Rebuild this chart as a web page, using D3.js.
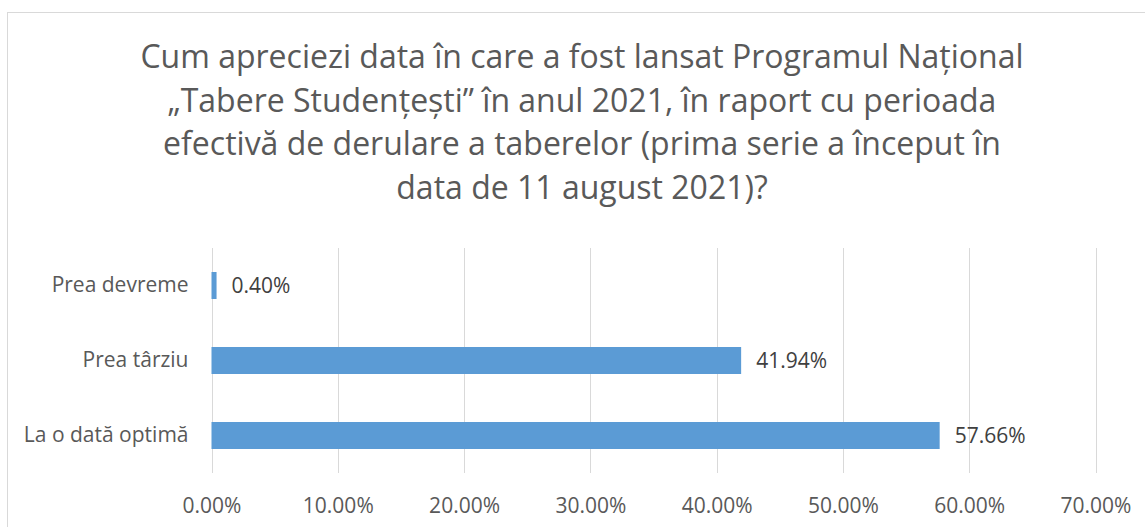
<!DOCTYPE html>
<html>
<head>
<meta charset="utf-8">
<script src="https://cdn.jsdelivr.net/npm/d3@7"></script>
<style>
  body { margin: 0; background: #fff; }
  svg { display: block; font-family: "Open Sans", "Noto Sans", sans-serif; }
  .grid line { stroke: #d9d9d9; stroke-width: 1; }
  .axis text { fill: #595959; font-size: 21px; }
</style>
</head>
<body>
<svg id="chart"></svg>
<script>
// chart data
var categories = ["Prea devreme", "Prea târziu", "La o dată optimă"];
var values = [0.40, 41.94, 57.66];
var tickValues = [0, 10, 20, 30, 40, 50, 60, 70];
var titleLines = [
	"Cum apreciezi data în care a fost lansat Programul Național",
	"„Tabere Studențești” în anul 2021, în raport cu perioada",
	"efectivă de derulare a taberelor (prima serie a început în",
	"data de 11 august 2021)?"
];

function drawChart() {
	var W = 1145, H = 527;
	var plot = {left: 211.5, right: 1095.5, top: 248, bottom: 473};

	var svg = d3.select("#chart")
		.attr("width", W)
		.attr("height", H);

	svg.append("rect")
		.attr("width", W).attr("height", H)
		.attr("fill", "#fff");

	// chart border (runs off right and bottom edges)
	svg.append("rect")
		.attr("x", 7.5).attr("y", 12.5)
		.attr("width", W + 20).attr("height", H + 20)
		.attr("fill", "none")
		.attr("stroke", "#d9d9d9");

	// title
	svg.append("text")
		.attr("text-anchor", "middle")
		.attr("fill", "#595959")
		.style("font-size", "32px")
	  .selectAll("tspan")
		.data(titleLines)
	  .enter().append("tspan")
		.attr("x", 582)
		.attr("y", function(d, i) { return 68 + i * 43.5; })
		.text(function(d) { return d; });

	var x = d3.scaleLinear()
		.domain([0, 70])
		.range([plot.left, plot.right]);

	var y = d3.scaleBand()
		.domain(categories)
		.range([plot.top, plot.bottom])
		.paddingInner(0.64)
		.paddingOuter(0.32);

	// gridlines
	svg.append("g")
		.attr("class", "grid")
		.selectAll("line")
		.data(tickValues)
	  .enter().append("line")
		.attr("x1", function(d) { return Math.round(x(d)) + 0.5; })
		.attr("x2", function(d) { return Math.round(x(d)) + 0.5; })
		.attr("y1", plot.top)
		.attr("y2", plot.bottom);

	// x axis labels
	var xAxis = d3.axisBottom(x)
		.tickValues(tickValues)
		.tickSize(0)
		.tickPadding(0)
		.tickFormat(function(d) { return d3.format(".2f")(d) + "%"; });

	var gx = svg.append("g")
		.attr("class", "axis")
		.attr("transform", "translate(0," + (plot.bottom + 25) + ")")
		.call(xAxis)
		.attr("font-family", null)
		.attr("font-size", null);
	gx.select(".domain").remove();

	// y axis labels
	var yAxis = d3.axisLeft(y)
		.tickSize(0)
		.tickPadding(23);

	var gy = svg.append("g")
		.attr("class", "axis")
		.attr("transform", "translate(" + plot.left + ",0)")
		.call(yAxis)
		.attr("font-family", null)
		.attr("font-size", null);
	gy.select(".domain").remove();

	// bars
	svg.selectAll(".bar")
		.data(values)
	  .enter().append("rect")
		.attr("class", "bar")
		.attr("x", x(0))
		.attr("y", function(d, i) { return y(categories[i]); })
		.attr("width", function(d) { return Math.max(x(d) - x(0), 4); })
		.attr("height", y.bandwidth())
		.attr("fill", "#5b9bd5");

	// data labels
	svg.selectAll(".label")
		.data(values)
	  .enter().append("text")
		.attr("class", "label")
		.attr("x", function(d) { return Math.max(x(d), x(0) + 4) + 15; })
		.attr("y", function(d, i) { return y(categories[i]) + y.bandwidth() / 2; })
		.attr("dy", "0.35em")
		.attr("fill", "#404040")
		.style("font-size", "21px")
		.text(function(d) { return d3.format(".2f")(d) + "%"; });
}

drawChart();
</script>
</body>
</html>
